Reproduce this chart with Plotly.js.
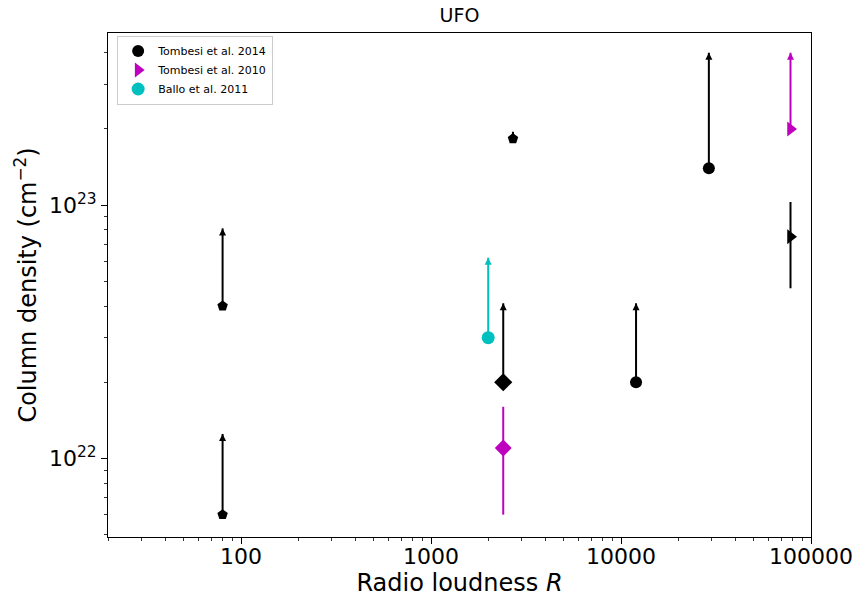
<!DOCTYPE html>
<html>
<head>
<meta charset="utf-8">
<script src="https://cdn.plot.ly/plotly-3.0.1.min.js"></script>
<style>html,body{margin:0;padding:0;background:#fff;}#chart{width:860px;height:600px;}</style>
</head>
<body>
<div id="chart"></div>
<script>
// Tombesi et al. 2014 (black)
const t14_R     = [12000, 80, 80, 2700, 2400, 29000, 78000];
const t14_NH    = [2.0e22, 4.0e22, 6.0e21, 1.83e23, 2.0e22, 1.4e23, 7.5e22];
const t14_top   = [4.1e22, 8.1e22, 1.25e22, 1.95e23, 4.1e22, 4.0e23, 1.03e23];
const t14_bot   = [2.0e22, 4.0e22, 6.0e21, 1.83e23, 2.0e22, 1.4e23, 4.7e22];
const t14_limit = [true, true, true, true, true, true, false];
const t14_sym   = ['circle', 'pentagon', 'pentagon', 'pentagon', 'diamond', 'circle', 'triangle-right'];
const t14_size  = [12, 11, 11, 11, 14, 12, 13];

// Tombesi et al. 2010 (magenta)
const t10_R     = [78000, 2400];
const t10_NH    = [2.0e23, 1.1e22];
const t10_top   = [4.0e23, 1.6e22];
const t10_bot   = [2.0e23, 6.0e21];
const t10_limit = [true, false];
const t10_sym   = ['triangle-right', 'diamond'];
const t10_size  = [13, 13];

// Ballo et al. 2011 (cyan)
const b11_R     = [2000];
const b11_NH    = [3.0e22];
const b11_top   = [6.2e22];
const b11_bot   = [3.0e22];
const b11_limit = [true];

// ticks
const xTickVals = [100, 1000, 10000, 100000];
const xTickText = ['100', '1000', '10000', '100000'];
const yTickVals = [1e22, 1e23];
const yTickText = ['10<sup>22</sup>', '10<sup>23</sup>'];

function minorTicks(lo, hi) {
  const out = [];
  for (let e = lo; e <= hi; e++) {
    for (let m = 2; m <= 9; m++) out.push(m * Math.pow(10, e));
  }
  return out;
}

function group(name, color, R, NH, top, bot, limit, sym, size, show) {
  const main = {
    type: 'scatter', mode: 'markers', name: name, legendgroup: name, showlegend: show,
    x: R, y: NH,
    marker: {color: color, symbol: sym, size: size, opacity: 1, line: {width: 0}},
    error_y: {
      type: 'data', symmetric: false,
      array: NH.map((v, i) => top[i] - v),
      arrayminus: NH.map((v, i) => v - bot[i]),
      color: color, thickness: 2, width: 0
    }
  };
  const ax = [], ay = [];
  limit.forEach((l, i) => { if (l) { ax.push(R[i]); ay.push(top[i]); } });
  const arrows = {
    type: 'scatter', mode: 'markers', legendgroup: name, showlegend: false, hoverinfo: 'skip',
    xaxis: 'x2', yaxis: 'y',
    x: ax, y: ay,
    marker: {color: color, symbol: 'arrow-up', size: 7, opacity: 1, line: {width: 0}}
  };
  return [main, arrows];
}

const traces = [].concat(
  group('Tombesi et al. 2014', '#000000', t14_R, t14_NH, t14_top, t14_bot, t14_limit, t14_sym, t14_size, true),
  group('Tombesi et al. 2010', '#bf00bf', t10_R, t10_NH, t10_top, t10_bot, t10_limit, t10_sym, t10_size, true),
  group('Ballo et al. 2011', '#00bfbf', b11_R, b11_NH, b11_top, b11_bot, b11_limit, ['circle'], [13], true)
);

const FF = 'DejaVu Sans, sans-serif';
const xRange = [1.3, 5.0];

const layout = {
  width: 860, height: 600,
  margin: {l: 108, r: 49, t: 33, b: 63},
  paper_bgcolor: '#fff', plot_bgcolor: '#fff',
  font: {family: FF, color: '#000'},
  title: {text: 'UFO', font: {family: FF, size: 19, color: '#000'},
          x: 0.5, xref: 'paper', xanchor: 'center', y: 1 - 15/600, yref: 'container', yanchor: 'middle'},
  xaxis: {
    type: 'log', range: xRange, automargin: false,
    tickmode: 'array', tickvals: xTickVals, ticktext: xTickText,
    ticks: '', 
    tickfont: {family: FF, size: 22, color: '#000'},
    showgrid: false, zeroline: false,
    showline: true, linecolor: '#000', linewidth: 1, mirror: true,
    title: {text: 'Radio loudness <i>R</i>', font: {family: FF, size: 24, color: '#000'}, standoff: 3}
  },
  xaxis2: {
    type: 'log', range: xRange, automargin: false, overlaying: 'x', anchor: 'y', side: 'bottom',
    tickmode: 'array', tickvals: xTickVals, showticklabels: false,
    ticks: 'outside', ticklen: 6, tickwidth: 1, tickcolor: '#000',
    minor: {tickmode: 'array', tickvals: minorTicks(1, 4), ticks: 'outside', ticklen: 3, tickwidth: 0.8, tickcolor: '#000', showgrid: false},
    showgrid: false, zeroline: false, showline: false
  },
  yaxis: {
    type: 'log', range: [21.69, 23.68], automargin: false,
    tickmode: 'array', tickvals: yTickVals, ticktext: yTickText,
    ticks: 'outside', ticklen: 6, tickwidth: 1, tickcolor: '#000',
    tickfont: {family: FF, size: 22, color: '#000'},
    minor: {tickmode: 'array', tickvals: minorTicks(21, 23), ticks: 'outside', ticklen: 3, tickwidth: 0.8, tickcolor: '#000', showgrid: false},
    showgrid: false, zeroline: false,
    showline: true, linecolor: '#000', linewidth: 1, mirror: true,
    title: {text: 'Column density (cm<sup>\u22122</sup>)', font: {family: FF, size: 24, color: '#000'}, standoff: 5}
  },
  legend: {
    x: 0.013, y: 0.995, xanchor: 'left', yanchor: 'top',
    bgcolor: 'rgba(255,255,255,0.8)', bordercolor: '#cccccc', borderwidth: 1,
    font: {family: FF, size: 11, color: '#000'},
    tracegroupgap: 0, itemwidth: 30
  },
  showlegend: true
};

Plotly.newPlot('chart', traces, layout, {displayModeBar: false, staticPlot: true});
</script>
</body>
</html>
